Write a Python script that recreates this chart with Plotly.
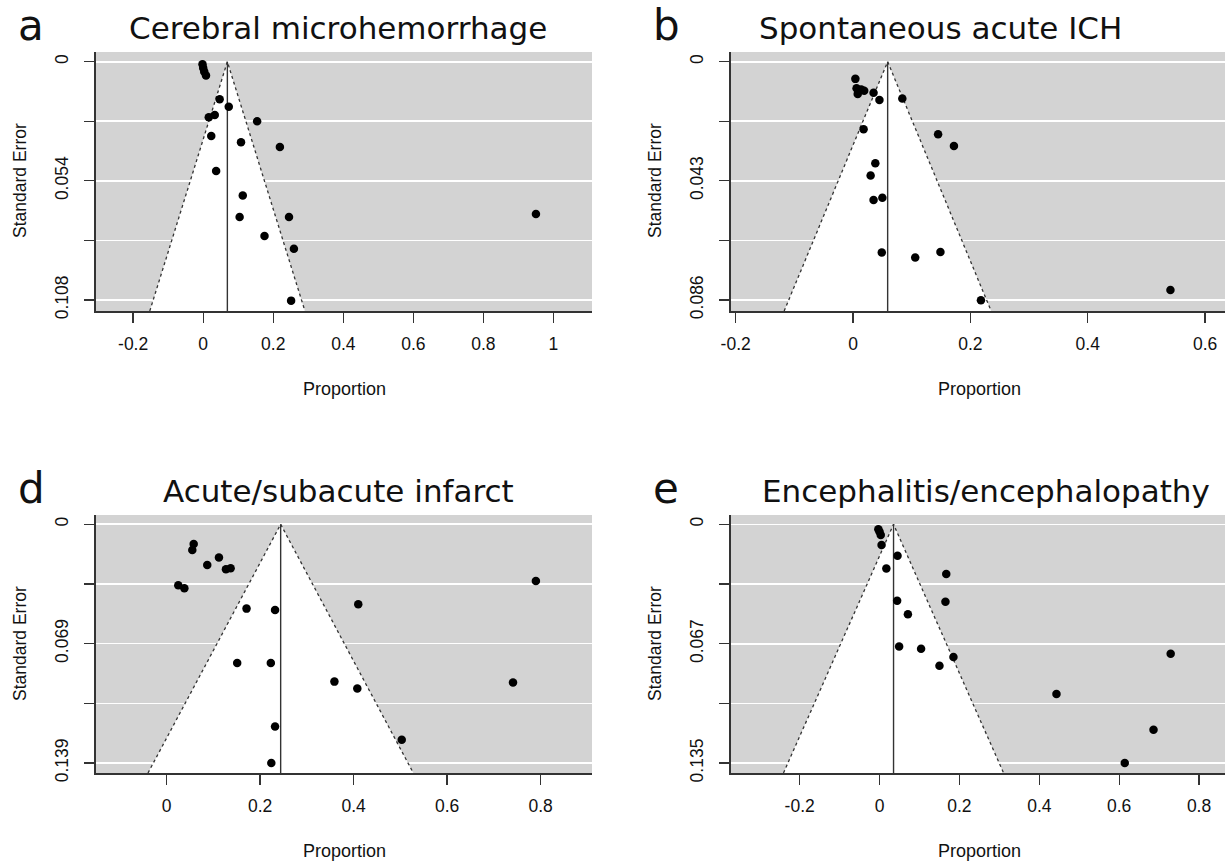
import plotly.graph_objects as go

W, H = 1225, 862

# ---------------- data ----------------
# panel a: Cerebral microhemorrhage
a_prop = [-0.002, 0.000, 0.003, 0.008, 0.047, 0.073, 0.016, 0.033, 0.154, 0.023,
          0.108, 0.219, 0.037, 0.113, 0.104, 0.245, 0.175, 0.259, 0.251, 0.950]
a_se = [0.0012, 0.0028, 0.0045, 0.0062, 0.0170, 0.0204, 0.0252, 0.0242, 0.0270, 0.0337,
        0.0365, 0.0387, 0.0495, 0.0606, 0.0704, 0.0704, 0.0790, 0.0848, 0.1083, 0.0690]
a_mean = 0.069

# panel b: Spontaneous acute ICH
b_prop = [0.004, 0.006, 0.008, 0.014, 0.019, 0.035, 0.045, 0.084, 0.018, 0.038,
          0.030, 0.035, 0.050, 0.049, 0.106, 0.145, 0.172, 0.149, 0.218, 0.541]
b_se = [0.0062, 0.0096, 0.0117, 0.0100, 0.0105, 0.0112, 0.0138, 0.0133, 0.0244, 0.0367,
        0.0411, 0.0499, 0.0491, 0.0689, 0.0707, 0.0262, 0.0304, 0.0687, 0.0861, 0.0824]
b_mean = 0.059

# panel d: Acute/subacute infarct
d_prop = [0.058, 0.055, 0.112, 0.087, 0.127, 0.137, 0.025, 0.038, 0.171, 0.232,
          0.410, 0.151, 0.223, 0.359, 0.408, 0.232, 0.503, 0.224, 0.790, 0.741]
d_se = [0.0115, 0.0150, 0.0194, 0.0237, 0.0262, 0.0256, 0.0355, 0.0372, 0.0491, 0.0499,
        0.0465, 0.0807, 0.0807, 0.0916, 0.0956, 0.1177, 0.1255, 0.1390, 0.0330, 0.0921]
d_mean = 0.244

# panel e: Encephalitis/encephalopathy
e_prop = [-0.003, 0.000, 0.003, 0.005, 0.045, 0.017, 0.167, 0.044, 0.165, 0.071,
          0.049, 0.104, 0.185, 0.150, 0.729, 0.443, 0.686, 0.614]
e_se = [0.0027, 0.0042, 0.0060, 0.0117, 0.0177, 0.0249, 0.0281, 0.0432, 0.0437, 0.0508,
        0.0691, 0.0704, 0.0750, 0.0800, 0.0731, 0.0959, 0.1162, 0.1350]
e_mean = 0.035

titles = ["Cerebral microhemorrhage", "Spontaneous acute ICH",
          "Acute/subacute infarct", "Encephalitis/encephalopathy"]
letters = ["a", "b", "d", "e"]

a_xticks = [-0.2, 0, 0.2, 0.4, 0.6, 0.8, 1]
b_xticks = [-0.2, 0, 0.2, 0.4, 0.6]
d_xticks = [0, 0.2, 0.4, 0.6, 0.8]
e_xticks = [-0.2, 0, 0.2, 0.4, 0.6, 0.8]

a_yticks = [0, 0.027, 0.054, 0.081, 0.108]
b_yticks = [0, 0.0215, 0.043, 0.0645, 0.086]
d_yticks = [0, 0.03475, 0.0695, 0.10425, 0.139]
e_yticks = [0, 0.03375, 0.0675, 0.10125, 0.135]
a_ylabels = ["0", "", "0.054", "", "0.108"]
b_ylabels = ["0", "", "0.043", "", "0.086"]
d_ylabels = ["0", "", "0.069", "", "0.139"]
e_ylabels = ["0", "", "0.067", "", "0.135"]

# axis ranges (x) and (y bottom, y top)
a_xr, a_yr = [-0.306, 1.110], [0.1130, -0.0044]
b_xr, b_yr = [-0.208, 0.634], [0.0900, -0.0035]
d_xr, d_yr = [-0.151, 0.910], [0.1448, -0.0054]
e_xr, e_yr = [-0.372, 0.865], [0.1406, -0.0053]

# ---------------- layout geometry (pixels) ----------------
panels = [
    dict(p=a_prop, s=a_se, m=a_mean, xr=a_xr, yr=a_yr, xt=a_xticks, yt=a_yticks, yl=a_ylabels,
         box=(96, 592, 52, 311), tx=338, ty=28, lx=31, ly=25, stx=20, sty=181),
    dict(p=b_prop, s=b_se, m=b_mean, xr=b_xr, yr=b_yr, xt=b_xticks, yt=b_yticks, yl=b_ylabels,
         box=(731, 1225, 52, 311), tx=940, ty=28, lx=666, ly=25, stx=655, sty=181),
    dict(p=d_prop, s=d_se, m=d_mean, xr=d_xr, yr=d_yr, xt=d_xticks, yt=d_yticks, yl=d_ylabels,
         box=(96, 592, 515, 773), tx=338, ty=491, lx=31, ly=488, stx=20, sty=644),
    dict(p=e_prop, s=e_se, m=e_mean, xr=e_xr, yr=e_yr, xt=e_xticks, yt=e_yticks, yl=e_ylabels,
         box=(731, 1225, 515, 773), tx=986, ty=491, lx=666, ly=488, stx=655, sty=644),
]

AX = "#333333"
TICKFONT = dict(family="Liberation Sans, Arial", size=17.5, color="#111111")

fig = go.Figure()
layout = dict(width=W, height=H, margin=dict(l=0, r=0, t=0, b=0, autoexpand=False),
              paper_bgcolor="white", plot_bgcolor="#D3D3D3", showlegend=False,
              hovermode=False)
annotations = []

for i, pn in enumerate(panels):
    k = "" if i == 0 else str(i + 1)
    xa, ya = "x" + k, "y" + k
    x0, x1, y0, y1 = pn["box"]
    ybot = pn["yr"][0]
    m = pn["m"]
    # funnel region (white)
    fig.add_trace(go.Scatter(x=[m - 1.96 * ybot, m, m + 1.96 * ybot], y=[ybot, 0, ybot],
                             mode="lines", fill="toself", fillcolor="white",
                             line=dict(width=0), hoverinfo="skip", xaxis=xa, yaxis=ya))
    fig.add_trace(go.Scatter(x=[m - 1.96 * ybot, m, m + 1.96 * ybot], y=[ybot, 0, ybot],
                             mode="lines", line=dict(color=AX, width=1.3, dash="dot"),
                             hoverinfo="skip", xaxis=xa, yaxis=ya))
    fig.add_trace(go.Scatter(x=[m, m], y=[0, ybot], mode="lines",
                             line=dict(color=AX, width=1.4), xaxis=xa, yaxis=ya))
    fig.add_trace(go.Scatter(x=pn["p"], y=pn["s"], mode="markers",
                             marker=dict(color="black", size=8.5), xaxis=xa, yaxis=ya))

    layout["xaxis" + k] = dict(
        domain=[x0 / W, x1 / W], anchor=ya, range=pn["xr"], autorange=False,
        automargin=False,
        showline=True, linecolor=AX, linewidth=1.6, ticks="outside", ticklen=10,
        tickcolor=AX, tickwidth=1.3, showgrid=False, zeroline=False,
        tickvals=pn["xt"], ticktext=[("%g" % v) for v in pn["xt"]],
        tickfont=TICKFONT, ticklabelstandoff=6)
    layout["yaxis" + k] = dict(
        domain=[1 - y1 / H, 1 - y0 / H], anchor=xa, range=pn["yr"], autorange=False,
        automargin=False,
        showline=True, linecolor=AX, linewidth=1.6, ticks="outside", ticklen=10,
        tickcolor=AX, tickwidth=1.3, showgrid=True, gridcolor="white", gridwidth=1.6,
        zeroline=False, tickvals=pn["yt"], ticktext=pn["yl"], tickangle=-90,
        tickfont=TICKFONT, ticklabelstandoff=9)

    annotations.append(dict(text=titles[i], x=pn["tx"] / W, y=1 - pn["ty"] / H,
                            xref="paper", yref="paper", showarrow=False,
                            xanchor="center", yanchor="middle",
                            font=dict(family="DejaVu Sans", size=31, color="#111111")))
    annotations.append(dict(text=letters[i], x=pn["lx"] / W, y=1 - pn["ly"] / H,
                            xref="paper", yref="paper", showarrow=False,
                            xanchor="center", yanchor="middle",
                            font=dict(family="DejaVu Sans", size=42, color="#111111")))
    annotations.append(dict(text="Standard Error", x=pn["stx"] / W, y=1 - pn["sty"] / H,
                            xref="paper", yref="paper", showarrow=False, textangle=-90,
                            xanchor="center", yanchor="middle",
                            font=dict(family="Liberation Sans, Arial", size=17.5, color="#111111")))
    annotations.append(dict(text="Proportion", x=(x0 + 248) / W,
                            y=1 - (y1 + 78) / H,
                            xref="paper", yref="paper", showarrow=False,
                            xanchor="center", yanchor="middle",
                            font=dict(family="Liberation Sans, Arial", size=18, color="#111111")))

layout["annotations"] = annotations
fig.update_layout(**layout)
fig.write_html("out.html", config={"displayModeBar": False, "staticPlot": True},
               post_script="document.body.style.margin='0';document.body.style.overflow='hidden';")
